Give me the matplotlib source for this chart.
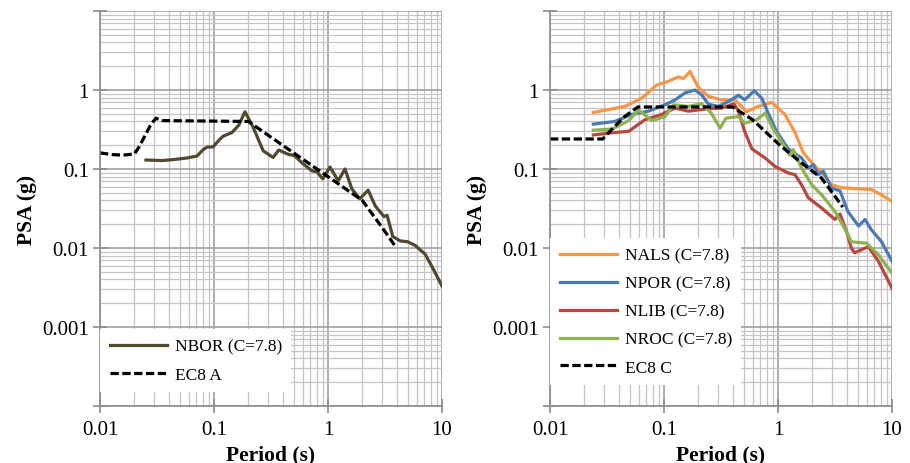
import matplotlib
matplotlib.use("Agg")
import matplotlib.pyplot as plt
from matplotlib.ticker import LogLocator, FixedLocator, FixedFormatter, NullFormatter

plt.rcParams['font.family'] = ['Liberation Serif', 'DejaVu Serif']

# left panel: NBOR record vs EC8 soil A
nbor_T = [0.0253, 0.035, 0.045, 0.058, 0.071, 0.08, 0.087, 0.098, 0.11, 0.12, 0.144, 0.165, 0.187,
          0.22, 0.27, 0.33, 0.37, 0.44, 0.51, 0.59, 0.72, 0.8, 0.9, 1.04, 1.23, 1.41,
          1.62, 1.9, 2.25, 2.6, 3.1, 3.3, 3.7, 4.3, 5.0, 5.8, 7.1, 8.4, 10.0]
nbor_psa = [0.13, 0.128, 0.132, 0.138, 0.146, 0.175, 0.19, 0.19, 0.23, 0.26, 0.29, 0.36, 0.53,
            0.34, 0.17, 0.14, 0.174, 0.155, 0.147, 0.12, 0.095, 0.092, 0.075, 0.106, 0.071, 0.1,
            0.056, 0.042, 0.054, 0.034, 0.025, 0.026, 0.014, 0.0123, 0.012, 0.0108, 0.0084, 0.0054, 0.0033]

ec8a_T = [0.01, 0.013, 0.016, 0.02, 0.022, 0.025, 0.028, 0.031, 0.035, 0.2, 0.5, 1.0, 2.0, 3.0, 3.9]
ec8a_psa = [0.16, 0.152, 0.15, 0.155, 0.19, 0.27, 0.37, 0.44, 0.41, 0.40, 0.16, 0.08, 0.04, 0.018, 0.0105]

# right panel: four stations vs EC8 soil C
nals_T = [0.024, 0.0455, 0.064, 0.086, 0.109, 0.134, 0.148, 0.169, 0.2, 0.245, 0.32,
          0.42, 0.53, 0.67, 0.88, 1.15, 1.41, 1.67, 1.98, 2.42, 2.96, 3.62, 6.6, 8.1, 10.0]
nals_psa = [0.52, 0.62, 0.79, 1.15, 1.29, 1.47, 1.39, 1.72, 1.08, 0.83, 0.75,
            0.75, 0.53, 0.62, 0.70, 0.49, 0.29, 0.16, 0.12, 0.089, 0.063, 0.058, 0.055, 0.047, 0.039]

npor_T = [0.024, 0.037, 0.052, 0.073, 0.102, 0.125, 0.153, 0.187, 0.214, 0.245, 0.3,
          0.37, 0.45, 0.51, 0.62, 0.72, 0.82, 0.97, 1.23, 1.61, 1.85, 2.04, 2.26, 2.5,
          2.95, 3.5, 4.1, 5.1, 5.8, 6.6, 8.1, 10.0]
npor_psa = [0.37, 0.40, 0.49, 0.54, 0.65, 0.75, 0.92, 1.0, 0.87, 0.66, 0.62,
            0.72, 0.86, 0.75, 0.98, 0.79, 0.51, 0.30, 0.18, 0.138, 0.103, 0.114, 0.085, 0.094,
            0.057, 0.053, 0.029, 0.019, 0.023, 0.017, 0.012, 0.0068]

nlib_T = [0.024, 0.037, 0.049, 0.068, 0.095, 0.125, 0.163, 0.245, 0.32, 0.41, 0.45,
          0.51, 0.59, 0.77, 0.94, 1.23, 1.41, 1.61, 1.85, 2.42, 3.16, 3.5, 4.0, 4.4,
          4.7, 6.2, 7.6, 10.0]
nlib_psa = [0.27, 0.29, 0.30, 0.42, 0.49, 0.59, 0.54, 0.58, 0.59, 0.67, 0.54,
            0.30, 0.18, 0.138, 0.108, 0.089, 0.085, 0.063, 0.043, 0.032, 0.023, 0.027, 0.016, 0.010,
            0.0087, 0.0104, 0.0068, 0.0031]

nroc_T = [0.024, 0.035, 0.049, 0.06, 0.078, 0.102, 0.121, 0.163, 0.214, 0.26, 0.31,
          0.35, 0.45, 0.51, 0.65, 0.77, 0.91, 1.15, 1.27, 1.36, 1.61, 1.98, 2.42, 3.16,
          4.0, 4.4, 6.0, 7.6, 10.0]
nroc_psa = [0.31, 0.32, 0.41, 0.56, 0.41, 0.46, 0.65, 0.62, 0.67, 0.51, 0.33,
            0.44, 0.46, 0.38, 0.42, 0.51, 0.32, 0.19, 0.15, 0.176, 0.103, 0.063, 0.047, 0.029,
            0.016, 0.012, 0.0115, 0.0082, 0.0048]

ec8c_T = [0.01, 0.029, 0.035, 0.045, 0.059, 0.40, 0.6, 1.04, 1.6, 2.4, 3.0, 3.7]
ec8c_psa = [0.24, 0.24, 0.32, 0.46, 0.61, 0.61, 0.42, 0.20, 0.12, 0.077, 0.05, 0.033]

# colours (excel style)
c_nbor = '#50492f'
c_nals = '#f79646'
c_npor = '#4a7ab5'
c_nlib = '#b9473f'
c_nroc = '#8db24e'

dashes = (0, (2.6, 1.1))


def style_axes(ax):
    ax.set_xscale('log')
    ax.set_yscale('log')
    ax.set_xlim(0.01, 10)
    ax.set_ylim(1e-4, 10)
    ax.grid(which='major', color='#a0a0a0', linewidth=1.2)
    ax.grid(which='minor', color='#c4c4c4', linewidth=0.9)
    ax.set_axisbelow(True)
    for s in ['top', 'right']:
        ax.spines[s].set_visible(False)
    for s in ['left', 'bottom']:
        ax.spines[s].set_color('#8c8c8c')
        ax.spines[s].set_linewidth(1.2)
    ax.xaxis.set_major_locator(FixedLocator([0.01, 0.1, 1, 10]))
    ax.xaxis.set_major_formatter(FixedFormatter(['0.01', '0.1', '1', '10']))
    ax.yaxis.set_major_locator(FixedLocator([1e-4, 1e-3, 1e-2, 0.1, 1, 10]))
    ax.yaxis.set_major_formatter(FixedFormatter(['', '0.001', '0.01', '0.1', '1', '']))
    ax.xaxis.set_minor_locator(LogLocator(base=10, subs=range(2, 10)))
    ax.yaxis.set_minor_locator(LogLocator(base=10, subs=range(2, 10)))
    ax.xaxis.set_minor_formatter(NullFormatter())
    ax.yaxis.set_minor_formatter(NullFormatter())
    ax.tick_params(which='major', direction='inout', length=10, width=1.2,
                   color='#8c8c8c', labelsize=15, pad=3)
    ax.tick_params(axis='x', which='major', pad=5)
    ax.tick_params(which='minor', length=0)
    ax.set_xlabel('Period (s)', fontsize=15.5, fontweight='bold', labelpad=4)
    ax.set_ylabel('PSA (g)', fontsize=15.5, fontweight='bold', labelpad=4)


def add_legend(ax, y0):
    leg = ax.legend(loc='lower left', bbox_to_anchor=(0.0, y0), frameon=True, fancybox=False,
                    framealpha=1, edgecolor='white', fontsize=12.5, handlelength=3.3,
                    handletextpad=0.45, labelspacing=0.68, borderaxespad=0, borderpad=0.55)
    leg.get_frame().set_linewidth(0)
    return leg


fig = plt.figure(figsize=(9.1, 4.64), dpi=100)
ax1 = fig.add_axes([0.1099, 0.1228, 0.3758, 0.8513])
ax2 = fig.add_axes([0.6044, 0.1228, 0.3758, 0.8513])

style_axes(ax1)
ax1.plot(nbor_T, nbor_psa, color=c_nbor, linewidth=2.3, label='NBOR (C=7.8)')
ax1.plot(ec8a_T, ec8a_psa, color='black', linewidth=2.3, linestyle=dashes, label='EC8 A')
add_legend(ax1, 0.035)

style_axes(ax2)
ax2.plot(nals_T, nals_psa, color=c_nals, linewidth=2.3, label='NALS (C=7.8)')
ax2.plot(npor_T, npor_psa, color=c_npor, linewidth=2.3, label='NPOR (C=7.8)')
ax2.plot(nlib_T, nlib_psa, color=c_nlib, linewidth=2.3, label='NLIB (C=7.8)')
ax2.plot(nroc_T, nroc_psa, color=c_nroc, linewidth=2.3, label='NROC (C=7.8)')
ax2.plot(ec8c_T, ec8c_psa, color='black', linewidth=2.3, linestyle=dashes, label='EC8 C')
add_legend(ax2, 0.053)

fig.savefig('out.png', dpi=100)
